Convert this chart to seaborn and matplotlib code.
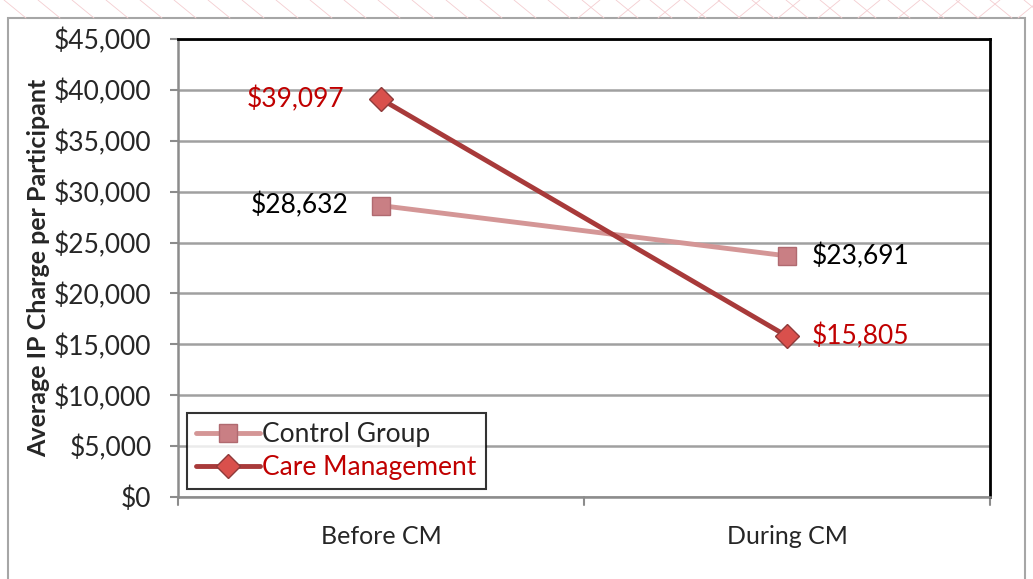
import matplotlib
matplotlib.use("Agg")
import matplotlib.pyplot as plt
import seaborn as sns
import pandas as pd
from matplotlib.patches import Rectangle
from matplotlib.lines import Line2D

periods = ["Before CM", "During CM"]
control = [28632, 23691]
care = [39097, 15805]
yticks = [0, 5000, 10000, 15000, 20000, 25000, 30000, 35000, 40000, 45000]

df = pd.DataFrame({
    "period": periods * 2,
    "charge": control + care,
    "group": ["Control Group"] * 2 + ["Care Management"] * 2,
})

sns.set_style("white")
plt.rcParams["font.family"] = ["Lato", "DejaVu Sans"]

fig = plt.figure(figsize=(10.33, 5.79), dpi=100)
# outer chart frame
fig.patches.append(Rectangle((8 / 1033, -0.05), 1017 / 1033, 1.05 - 18 / 579,
                             transform=fig.transFigure, fill=False,
                             edgecolor="#A6A6A6", linewidth=1.5))
# faint decorative lines at the top
for x0 in range(-200, 1100, 34):
    fig.add_artist(Line2D([x0 / 1033, (x0 + 22) / 1033], [1.0, 1 - 18 / 579],
                          transform=fig.transFigure, color="#F4CDD0", lw=0.6))
for x0 in range(600, 1100, 40):
    fig.add_artist(Line2D([x0 / 1033, (x0 - 22) / 1033], [1.0, 1 - 18 / 579],
                          transform=fig.transFigure, color="#F4CDD0", lw=0.6))

ax = fig.add_axes([178 / 1033, 82 / 579, 812 / 1033, 458 / 579])

colors = {"Control Group": "#D49696", "Care Management": "#A83A3A"}
mfc = {"Control Group": "#C97F84", "Care Management": "#D9504C"}
mec = {"Control Group": "#B06A70", "Care Management": "#8E3A3A"}
marks = {"Control Group": "s", "Care Management": "D"}
msize = {"Control Group": 13, "Care Management": 12}

for g in ["Control Group", "Care Management"]:
    sub = df[df["group"] == g]
    sns.lineplot(data=sub, x="period", y="charge", ax=ax, color=colors[g],
                 linewidth=3.5, marker=marks[g], markersize=msize[g],
                 markerfacecolor=mfc[g], markeredgecolor=mec[g],
                 markeredgewidth=1, label=g, zorder=3)

ax.set_xlim(-0.5, 1.5)
ax.set_ylim(0, 45000)
ax.set_yticks(yticks)
ax.set_yticklabels(["${:,}".format(v) for v in yticks], fontsize=19)
ax.set_xticks([0, 1])
ax.set_xticklabels(periods, fontsize=18)
ax.tick_params(axis="x", pad=20, length=0)
ax.tick_params(axis="y", length=6, width=1.5, color="#8C8C8C", direction="out", left=True, pad=13)
ax.set_xlabel("")
ax.set_ylabel("Average IP Charge per Participant", fontsize=18, fontweight="bold")
ax.yaxis.set_label_coords((50 - 178) / 812, 0.5)
ax.yaxis.grid(True, color="#A0A0A0", linewidth=1.8)
ax.set_axisbelow(True)
for s in ["top", "right"]:
    ax.spines[s].set_color("black")
    ax.spines[s].set_linewidth(2)
for s in ["left", "bottom"]:
    ax.spines[s].set_color("#8C8C8C")
    ax.spines[s].set_linewidth(1.8)
# ticks at category boundaries on x
for xb in [-0.5, 0.5, 1.5]:
    ax.plot([xb, xb], [0, -0.018], transform=ax.get_xaxis_transform(), color="#8C8C8C",
            lw=1.5, clip_on=False)

# data labels
for i, v in enumerate(control):
    off = -0.2 if i == 0 else 0.18
    ax.text(i + off, v, "${:,}".format(v), fontsize=19, color="black",
            ha="center", va="center")
for i, v in enumerate(care):
    off = -0.21 if i == 0 else 0.18
    ax.text(i + off, v, "${:,}".format(v), fontsize=19, color="#C00000",
            ha="center", va="center")

leg = ax.legend(loc="lower left", bbox_to_anchor=(0.011, 0.017), fontsize=19,
                frameon=True, fancybox=False, edgecolor="black", handlelength=2.4,
                handletextpad=0.1, borderpad=0.35, labelspacing=0.3, borderaxespad=0)
leg.get_frame().set_linewidth(1.5)
leg.get_texts()[1].set_color("#C00000")

fig.savefig("out.png", dpi=100)
